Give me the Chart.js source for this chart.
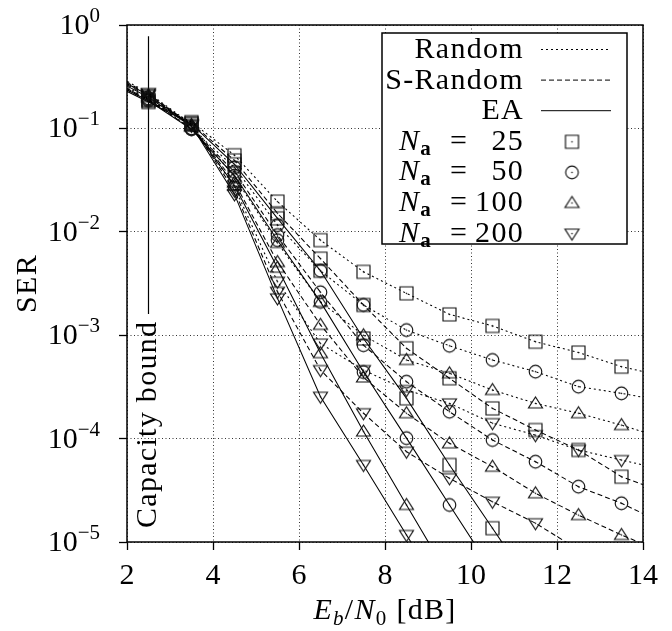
<!DOCTYPE html>
<html><head><meta charset="utf-8">
<script src="https://cdn.jsdelivr.net/npm/chart.js@4.4.1/dist/chart.umd.min.js"></script>
<style>html,body{margin:0;padding:0;background:#fff}</style>
</head><body>
<canvas id="c" width="672" height="631"></canvas>
<script>
// ---------- data ----------
const ebn0 = [1.5, 2.5, 3.5, 4.5, 5.5, 6.5, 7.5, 8.5, 9.5, 10.5, 11.5, 12.5, 13.5, 14.5];

const random25  = [0.31, 0.19, 0.115, 0.055, 0.0196, 0.0083, 0.0041, 0.00254, 0.00159, 0.00123, 0.000865, 0.00068, 0.000496, 0.0004];
const random50  = [0.32, 0.195, 0.1, 0.042, 0.0116, 0.0042, 0.00196, 0.00112, 0.00079, 0.000576, 0.000444, 0.000318, 0.000274, 0.00023];
const random100 = [0.35, 0.21, 0.108, 0.034, 0.0078, 0.0021, 0.001, 0.000576, 0.000428, 0.000295, 0.000219, 0.000176, 0.000135, 0.0001];
const random200 = [0.37, 0.22, 0.11, 0.027, 0.00329, 0.00083, 0.00046, 0.000295, 0.000219, 0.000141, 0.000108, 0.0000776, 0.000062, 0.00005];

const sRandom25  = [0.30, 0.185, 0.112, 0.049, 0.0151, 0.0055, 0.00196, 0.000747, 0.000383, 0.000196, 0.000121, 0.0000776, 0.0000428, 0.00003];
const sRandom50  = [0.31, 0.19, 0.099, 0.038, 0.0093, 0.0026, 0.0008, 0.000355, 0.000182, 0.0000969, 0.0000598, 0.0000343, 0.0000237, 0.000015];
const sRandom100 = [0.34, 0.205, 0.106, 0.03, 0.0051, 0.00126, 0.00039, 0.000176, 0.00009, 0.0000535, 0.0000296, 0.0000182, 0.0000117, 0.0000078];
const sRandom200 = [0.36, 0.215, 0.108, 0.025, 0.00263, 0.00046, 0.000176, 0.0000747, 0.0000413, 0.0000245, 0.0000152, 0.0000084, null, null];

const ea25  = [0.29, 0.18, 0.11, 0.045, 0.0135, 0.0042, 0.00093, 0.000245, 0.0000556, 0.0000136, 0.0000033, null, null, null];
const ea50  = [0.30, 0.185, 0.098, 0.035, 0.0083, 0.0021, 0.00044, 0.000101, 0.0000228, 0.0000052, null, null, null, null];
const ea100 = [0.33, 0.2, 0.104, 0.028, 0.0045, 0.00067, 0.000117, 0.0000228, 0.0000045, null, null, null, null, null];
const ea200 = [0.35, 0.21, 0.106, 0.023, 0.00227, 0.000254, 0.0000556, 0.0000117, 0.0000025, null, null, null, null, null];

const capacityX = 2.5;                 // capacity bound [dB]
const capacityY = [0.78, 0.0016];      // vertical extent of the drawn bound line

const interleavers = ['Random', 'S-Random', 'EA'];
const naValues = ['25', '50', '100', '200'];
const yTicks = [1, 0.1, 0.01, 0.001, 0.0001, 0.00001];
const yTickExps = ['0', '\u22121', '\u22122', '\u22123', '\u22124', '\u22125'];
const xTitle = [['E', 'i'], ['b', 'is'], ['/', 'r'], ['N', 'i'], ['0', 'rs'], [' [dB]', 'r']];
const yTitle = 'SER';
const capacityLabel = 'Capacity bound';

// ---------- styles ----------
const FAM = "'Liberation Serif','DejaVu Serif',serif";
const FS = 30, FSS = 21;
const SPACING = '1.3px';
const dashes = { 'Random': [2, 3], 'S-Random': [5, 3], 'EA': [] };

function makeMarker(kind) {
  const c = document.createElement('canvas');
  c.width = 19; c.height = 19;
  const g = c.getContext('2d');
  g.strokeStyle = '#111'; g.fillStyle = '#111'; g.lineWidth = 1.15;
  g.beginPath();
  if (kind === 'square') g.rect(3, 3, 13, 13);
  else if (kind === 'circle') g.arc(9.5, 9.5, 6.3, 0, Math.PI * 2);
  else if (kind === 'tri') { g.moveTo(9.5, 3); g.lineTo(16.5, 14); g.lineTo(2.5, 14); g.closePath(); }
  else { g.moveTo(2.5, 5); g.lineTo(16.5, 5); g.lineTo(9.5, 16); g.closePath(); }
  g.stroke();
  g.beginPath(); g.arc(9.5, 9.5, 0.8, 0, Math.PI * 2); g.fill();
  return c;
}
const markers = { '25': makeMarker('square'), '50': makeMarker('circle'), '100': makeMarker('tri'), '200': makeMarker('inv') };

const seriesTable = [
  ['Random', '25', random25], ['Random', '50', random50], ['Random', '100', random100], ['Random', '200', random200],
  ['S-Random', '25', sRandom25], ['S-Random', '50', sRandom50], ['S-Random', '100', sRandom100], ['S-Random', '200', sRandom200],
  ['EA', '25', ea25], ['EA', '50', ea50], ['EA', '100', ea100], ['EA', '200', ea200]
];

const datasets = seriesTable.map(([il, na, vals]) => ({
  label: il + ' Na=' + na,
  data: ebn0.map((x, i) => ({ x: x, y: vals[i] })).filter(p => p.y !== null),
  borderColor: '#000', borderWidth: 1.05, borderDash: dashes[il],
  pointStyle: markers[na], pointRadius: 6, pointBorderWidth: 1,
  fill: false, tension: 0, showLine: true
}));
datasets.push({
  label: 'Capacity bound',
  data: capacityY.map(v => ({ x: capacityX, y: v })),
  borderColor: '#000', borderWidth: 1.2, pointRadius: 0, fill: false, showLine: true
});

function fontOf(k) {
  const small = k.includes('s');
  const it = k.includes('i') ? 'italic ' : '';
  const b = k.includes('b') ? 'bold ' : '';
  return it + b + (small ? FSS : FS) + 'px ' + FAM;
}
function drawRuns(ctx, runs, x, y, align) {
  let total = 0;
  runs.forEach(r => { ctx.font = fontOf(r[1]); r.w = ctx.measureText(r[0]).width; total += r.w; });
  let cx = align === 'right' ? x - total : align === 'center' ? x - total / 2 : x;
  runs.forEach(r => {
    ctx.font = fontOf(r[1]);
    const dy = r[1].includes('s') ? (r[2] !== undefined ? r[2] : 6) : 0;
    ctx.fillText(r[0], cx, y + dy);
    cx += r.w;
  });
}

const gridOpts = {
  color: '#333', lineWidth: 1, borderDash: [1, 2.5],
  drawTicks: true, tickLength: 8, tickColor: '#000', tickWidth: 1.3, tickBorderDash: []
};

const custom = {
  id: 'custom',
  afterDatasetsDraw(chart) {
    const { ctx, chartArea: a, scales: { x, y } } = chart;
    ctx.save();
    ctx.setLineDash([]);
    ctx.fillStyle = '#000';
    ctx.textAlign = 'left';
    ctx.textBaseline = 'alphabetic';

    // frame
    ctx.strokeStyle = '#000'; ctx.lineWidth = 1.5;
    ctx.strokeRect(a.left, a.top, a.right - a.left, a.bottom - a.top);

    // y tick labels 10^n
    yTicks.forEach((v, i) => {
      const py = y.getPixelForValue(v);
      ctx.font = fontOf('r'); const w10 = ctx.measureText('10').width;
      ctx.font = fontOf('rs'); const we = ctx.measureText(yTickExps[i]).width;
      const right = a.left - 27;
      ctx.font = fontOf('r'); ctx.fillText('10', right - we - w10, py + 9);
      ctx.font = fontOf('rs'); ctx.fillText(yTickExps[i], right - we, py - 3);
    });

    ctx.letterSpacing = SPACING;

    // capacity bound label
    const cx = x.getPixelForValue(capacityX);
    ctx.save();
    ctx.translate(cx + 7, a.bottom - 14);
    ctx.rotate(-Math.PI / 2);
    ctx.font = fontOf('r');
    ctx.fillText(capacityLabel, 0, 0);
    ctx.restore();

    // axis titles
    drawRuns(ctx, xTitle.map(r => r.slice()), (a.left + a.right) / 2, 619, 'center');
    ctx.save();
    ctx.translate(36, (a.top + a.bottom) / 2);
    ctx.rotate(-Math.PI / 2);
    ctx.font = fontOf('r'); ctx.textAlign = 'center';
    ctx.fillText(yTitle, 0, 0);
    ctx.restore();

    // legend
    const lx = a.right - 261, ly = a.top + 8, lw = 245, lh = 211;
    ctx.fillStyle = '#fff'; ctx.fillRect(lx, ly, lw, lh);
    ctx.strokeStyle = '#000'; ctx.lineWidth = 1.5; ctx.strokeRect(lx, ly, lw, lh);
    ctx.fillStyle = '#000';
    const textRight = lx + 142, sx0 = lx + 159, sx1 = lx + 229, mx = lx + 190;
    let row = 0;
    const rowY = i => ly + 16 + i * 30.6;
    interleavers.forEach(il => {
      const ry = rowY(row++);
      ctx.font = fontOf('r'); ctx.textAlign = 'right';
      ctx.fillText(il, textRight, ry + 9);
      ctx.textAlign = 'left';
      ctx.setLineDash(dashes[il]); ctx.lineWidth = 1; ctx.strokeStyle = '#000';
      ctx.beginPath(); ctx.moveTo(sx0, ry + 0.5); ctx.lineTo(sx1, ry + 0.5); ctx.stroke();
      ctx.setLineDash([]);
    });
    naValues.forEach(na => {
      const ry = rowY(row++);
      ctx.textAlign = 'left';
      drawRuns(ctx, [['N', 'i'], ['a', 'bs', 5]], lx + 17, ry + 9, 'left');
      ctx.font = fontOf('r');
      ctx.fillText('=', lx + 68, ry + 9);
      ctx.textAlign = 'right';
      ctx.fillText(na, textRight, ry + 9);
      ctx.textAlign = 'left';
      ctx.drawImage(markers[na], mx - 9.5, ry + 1 - 9.5);
    });
    ctx.restore();
  }
};

new Chart(document.getElementById('c'), {
  type: 'line',
  data: { datasets },
  options: {
    responsive: false, animation: false, events: [],
    layout: { padding: { left: 0, top: 25, right: 29, bottom: 0 } },
    plugins: { legend: { display: false }, tooltip: { enabled: false } },
    scales: {
      x: {
        type: 'linear', min: 2, max: 14,
        ticks: { stepSize: 2, color: '#000', font: { family: FAM, size: FS }, padding: 8, maxRotation: 0 },
        grid: gridOpts,
        border: { display: false, dash: [1, 2.5] },
        afterFit: s => { s.height = 89; }
      },
      y: {
        type: 'logarithmic', min: 1e-5, max: 1,
        ticks: { display: false },
        afterBuildTicks: s => { s.ticks = yTicks.map(v => ({ value: v })); },
        grid: gridOpts,
        border: { display: false, dash: [1, 2.5] },
        afterFit: s => { s.width = 127; }
      }
    }
  },
  plugins: [custom]
});
</script>
</body></html>
